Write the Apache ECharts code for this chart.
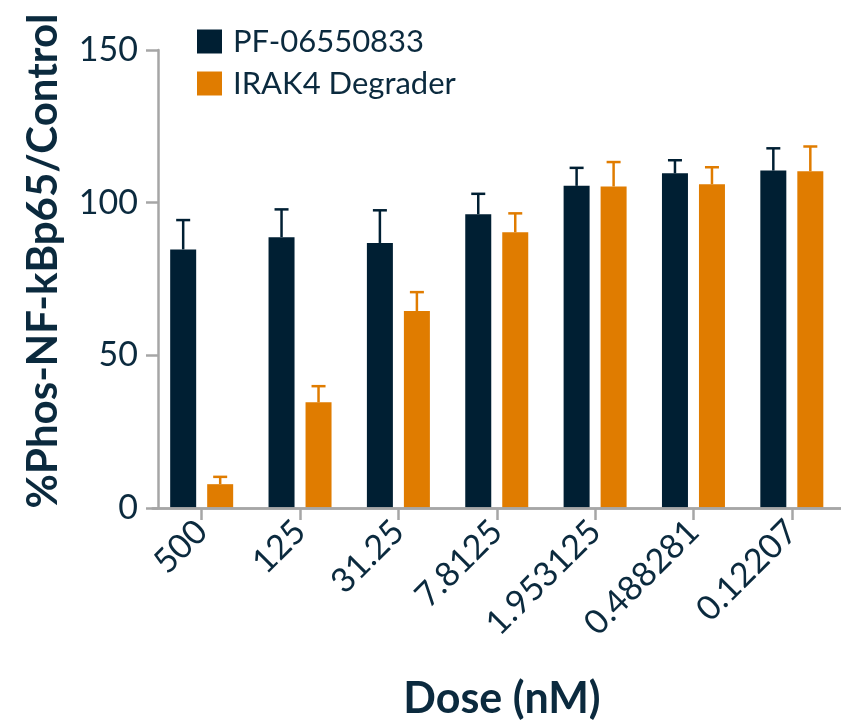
<!DOCTYPE html>
<html>
<head>
<meta charset="utf-8">
<script src="https://cdn.jsdelivr.net/npm/echarts@6/dist/echarts.min.js"></script>
<style>html,body{margin:0;padding:0;background:#fff;}#c{width:841px;height:722px;}</style>
</head>
<body>
<div id="c"></div>
<script>
const categories = ['500', '125', '31.25', '7.8125', '1.953125', '0.488281', '0.12207'];
const seriesNames = ['PF-06550833', 'IRAK4 Degrader'];
const pfMean = [84.7, 88.7, 86.8, 96.2, 105.5, 109.6, 110.5];
const pfErr = [9.6, 9.1, 10.7, 6.7, 5.9, 4.3, 7.3];
const degMean = [7.8, 34.6, 64.5, 90.3, 105.3, 106.0, 110.3];
const degErr = [2.4, 5.3, 6.2, 6.2, 8.0, 5.6, 8.1];
const yTicks = [0, 50, 100, 150];

const DARK = '#001f33';
const ORANGE = '#e07c00';
const TEXT = '#0b2a3e';
const AXIS = '#a6a6a6';
const BAR_W = 26;
const GAP = 11;
const OFF = (BAR_W + GAP) / 2;

function errData(mean, err) {
  return mean.map((m, i) => [i, m, m + err[i]]);
}
function errRender(offset, color) {
  return function (params, api) {
    const base = api.coord([api.value(0), api.value(1)]);
    const top = api.coord([api.value(0), api.value(2)]);
    const cx = base[0] + offset;
    const st = { stroke: color, lineWidth: 2.5 };
    return {
      type: 'group',
      children: [
        { type: 'line', shape: { x1: cx, y1: base[1], x2: cx, y2: top[1] }, style: st },
        { type: 'line', shape: { x1: cx - 7, y1: top[1], x2: cx + 7, y2: top[1] }, style: st }
      ]
    };
  };
}

const chart = echarts.init(document.getElementById('c'), null, { renderer: 'canvas' });
chart.setOption({
  animation: false,
  backgroundColor: '#ffffff',
  textStyle: { fontFamily: 'Lato', color: TEXT },
  legend: {
    orient: 'vertical',
    left: 197,
    top: 26,
    padding: 0,
    itemWidth: 25,
    itemHeight: 24,
    itemGap: 11,
    icon: 'rect',
    data: seriesNames,
    textStyle: { fontFamily: 'Lato', fontSize: 31, lineHeight: 24, color: TEXT, padding: [0, 0, 0, 6] }
  },
  grid: { left: 152.5, width: 700, top: 50, height: 458 },
  xAxis: {
    type: 'category',
    data: categories,
    z: 5,
    axisLine: { show: true, onZero: false, lineStyle: { color: AXIS, width: 2.5 } },
    axisTick: { show: true, alignWithLabel: true, length: 12, lineStyle: { color: AXIS, width: 2.5 } },
    axisLabel: { rotate: 45, fontSize: 34, color: TEXT, fontFamily: 'Lato', margin: 18 }
  },
  yAxis: {
    type: 'value',
    min: yTicks[0],
    max: yTicks[yTicks.length - 1],
    interval: 50,
    offset: -5.5,
    z: 5,
    splitLine: { show: false },
    axisLine: { show: true, lineStyle: { color: AXIS, width: 2.5 } },
    axisTick: { show: true, length: 12, lineStyle: { color: AXIS, width: 2.5 } },
    axisLabel: { fontSize: 34, color: TEXT, fontFamily: 'Lato', margin: 20 }
  },
  series: [
    {
      name: seriesNames[0], type: 'bar', data: pfMean, barWidth: BAR_W, barGap: (GAP / BAR_W * 100) + '%', itemStyle: { color: DARK },
      markLine: {
        silent: true, symbol: 'none', animation: false,
        label: { show: false },
        lineStyle: { color: AXIS, width: 2.5, type: 'solid' },
        emphasis: { disabled: true },
        data: [{ yAxis: 0 }]
      }
    },
    { name: seriesNames[1], type: 'bar', data: degMean, barWidth: BAR_W, itemStyle: { color: ORANGE } },
    { type: 'custom', renderItem: errRender(-OFF, DARK), data: errData(pfMean, pfErr), encode: { x: 0, y: [1, 2] }, z: 1 },
    { type: 'custom', renderItem: errRender(OFF, ORANGE), data: errData(degMean, degErr), encode: { x: 0, y: [1, 2] }, z: 1 }
  ],
  graphic: [
    {
      type: 'text', x: 43, y: 261, rotation: Math.PI / 2,
      style: { text: '%Phos-NF-kBp65/Control', font: 'bold 42px Lato', fill: TEXT, textAlign: 'center', textVerticalAlign: 'middle' }
    },
    {
      type: 'text', x: 502, y: 699,
      style: { text: 'Dose (nM)', font: 'bold 43px Lato', fill: TEXT, textAlign: 'center', textVerticalAlign: 'middle' }
    }
  ]
});
</script>
</body>
</html>
